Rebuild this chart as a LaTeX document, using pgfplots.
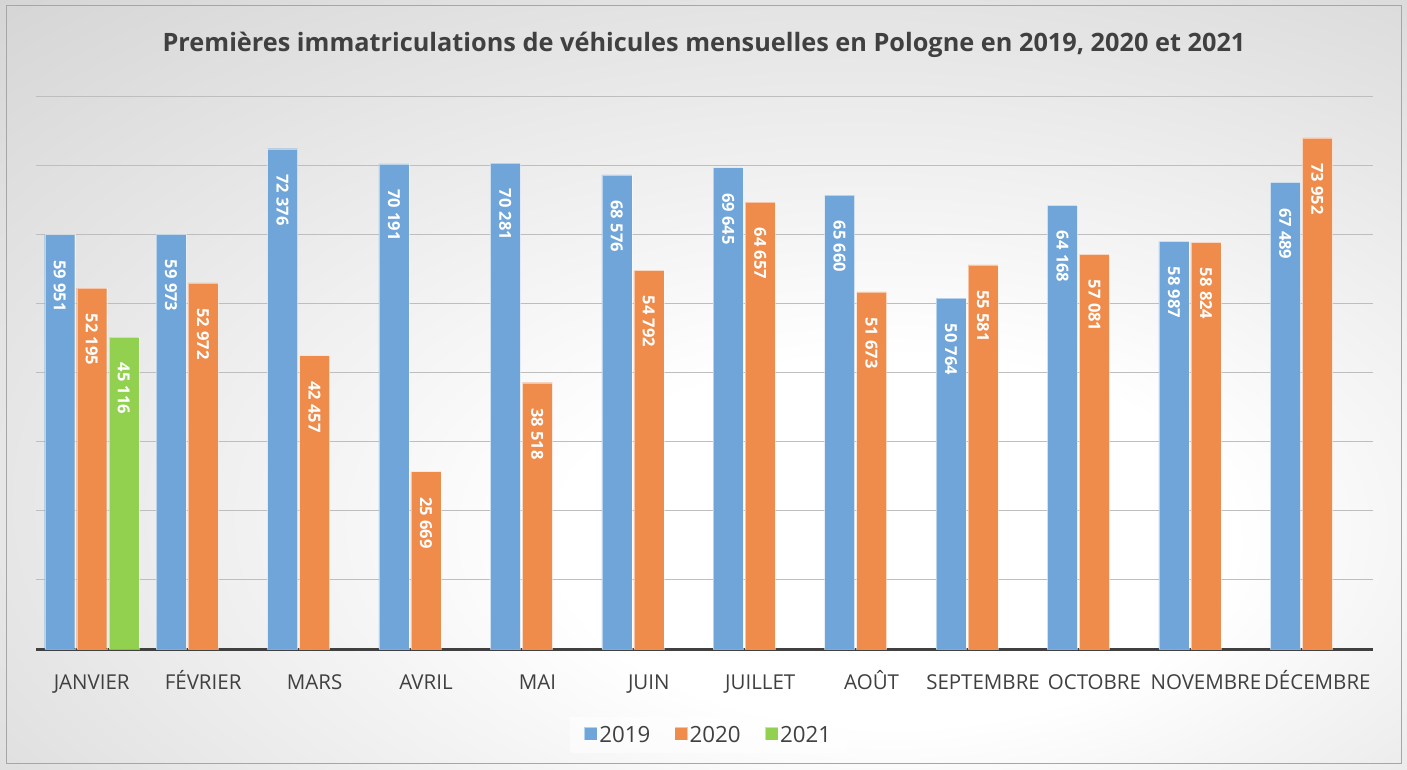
\documentclass[border=0pt]{standalone}
\usepackage{pgfplots}
\pgfplotsset{compat=1.18}
\usepackage{fontspec}
\setmainfont{Open Sans}
\definecolor{cblue}{RGB}{111,165,216}
\definecolor{corange}{RGB}{239,140,75}
\definecolor{cgreen}{RGB}{146,208,80}
\definecolor{ctext}{RGB}{64,64,64}
\definecolor{cgrid}{RGB}{190,190,190}
\pgfdeclareradialshading{bgshade}{\pgfpoint{8bp}{-12bp}}{color(0bp)=(white); color(12bp)=(white); color(45bp)=(black!18); color(80bp)=(black!28)}
\begin{document}
\begin{tikzpicture}
\useasboundingbox (0pt,0pt) rectangle (1407pt,769pt);
\shade[shading=bgshade] (0pt,0pt) rectangle (1407pt,769pt);
\draw[black!35, line width=1pt] (6pt,6pt) rectangle (1401pt,763pt);
\node[font=\bfseries\fontsize{25.3}{30}\selectfont, text=ctext] at (704pt,724pt) {Premières immatriculations de véhicules mensuelles en Pologne en 2019, 2020 et 2021};
\begin{axis}[
  at={(36pt,120pt)}, anchor=south west,
  scale only axis, width=1337pt, height=553pt,
  xmin=-0.5, xmax=11.5, ymin=0, ymax=80000,
  ybar, bar width=30pt,
  axis x line*=bottom, axis y line*=left,
  x axis line style={ctext, line width=3pt, -},
  y axis line style={draw=none},
  ymajorgrids, ytick={0,10000,...,80000}, yticklabels={}, ytick style={draw=none},
  scaled y ticks=false,
  grid style={cgrid, line width=1pt},
  xtick=data, xtick style={draw=none},
  xticklabels={JANVIER,FÉVRIER,MARS,AVRIL,MAI,JUIN,JUILLET,AOÛT,SEPTEMBRE,OCTOBRE,NOVEMBRE,DÉCEMBRE},
  xticklabel style={font=\fontsize{20.5}{24}\selectfont, text=ctext, anchor=base, yshift=-36pt},
  /pgf/number format/assume math mode=true,
  nodes near coords={\pgfmathprintnumber[1000 sep={\ }]{\pgfplotspointmeta}},
  every node near coord/.append style={rotate=-90, anchor=west, xshift=22pt, font=\bfseries\fontsize{16.5}{19}\selectfont, text=white},
  legend style={at={(0.503,-0.1555)}, anchor=center, legend columns=-1, fill=white, fill opacity=0.5, text opacity=1, draw=none, font=\fontsize{22.3}{26}\selectfont, text=ctext, inner xsep=14pt, inner ysep=7pt, /tikz/every even column/.append style={column sep=22pt}},
  legend image code/.code={\fill[#1, fill opacity=1] (0pt,-5pt) rectangle (13pt,8pt);},
  clip=false,
]
\addplot[fill=cblue, draw=white, draw opacity=0.5, bar shift=-32pt] coordinates {(0,59951) (1,59973) (2,72376) (3,70191) (4,70281) (5,68576) (6,69645) (7,65660) (8,50764) (9,64168) (10,58987) (11,67489)};
\addplot[fill=corange, draw=white, draw opacity=0.5, bar shift=0pt] coordinates {(0,52195) (1,52972) (2,42457) (3,25669) (4,38518) (5,54792) (6,64657) (7,51673) (8,55581) (9,57081) (10,58824) (11,73952)};
\addplot[fill=cgreen, draw=white, draw opacity=0.5, bar shift=32pt] coordinates {(0,45116)};
\legend{2019,2020,2021}
\end{axis}
\end{tikzpicture}
\end{document}
